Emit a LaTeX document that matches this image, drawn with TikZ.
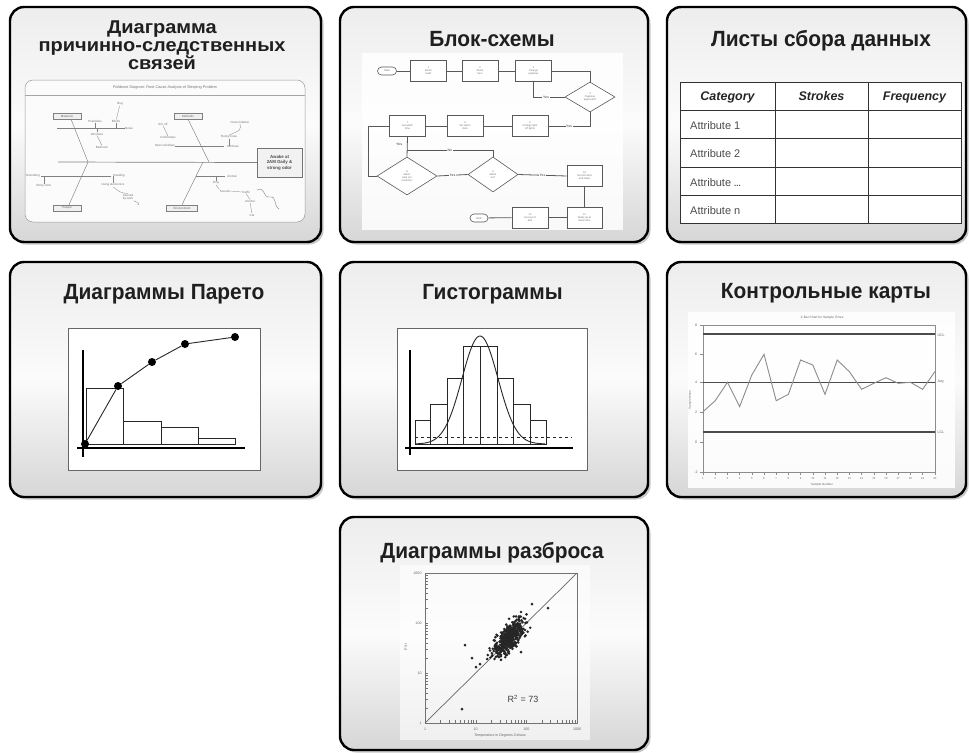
\documentclass[tikz,border=0pt]{standalone}
\usepackage{fontspec}
\setmainfont{Liberation Sans}
\newfontfamily\titlefont[FakeStretch=0.95]{Liberation Sans}
\newfontfamily\titlefontB[FakeStretch=1.08]{Liberation Sans}
\usetikzlibrary{shadows,shapes.geometric,calc}
\begin{document}
\begin{tikzpicture}[x=1pt,y=-1pt,
 panel/.style={draw=black, line width=2.4pt, rounded corners=14pt, top color=gray!14, bottom color=gray!32, middle color=gray!3, drop shadow={shadow xshift=2.5pt, shadow yshift=-2.5pt, fill=gray!60, opacity=0.7}, inner sep=0},
 ttl/.style={font=\titlefont\fontsize{22}{24}\selectfont\bfseries, text=black!88, anchor=base, inner sep=0},
 ttlB/.style={font=\titlefontB\fontsize{18.5}{20}\selectfont\bfseries, text=black!88, anchor=base, inner sep=0},
 tt/.style={font=\fontsize{3}{3.5}\selectfont, text=black!55, inner sep=0.3pt, align=center},
 fbl/.style={draw=black!50, line width=0.45pt},
 fbcat/.style={draw=black!50, fill=gray!12, line width=0.4pt, minimum width=28pt, minimum height=6pt, font=\fontsize{3}{3}\selectfont, text=black!60, inner sep=0},
 fbeff/.style={draw=black!55, fill=gray!10, line width=0.5pt, minimum width=45pt, minimum height=29pt, font=\fontsize{4.4}{5.6}\selectfont\bfseries, text=black!70, align=center, inner sep=0},
 fcbox/.style={draw=black!65, line width=0.6pt, fill=white, minimum width=36pt, minimum height=21pt, font=\fontsize{2.6}{3}\selectfont, text=black!55, align=center, inner sep=0},
 fcov/.style={draw=black!65, line width=0.6pt, fill=white, rounded corners=4pt, minimum width=19pt, minimum height=8pt, font=\fontsize{2.8}{3}\selectfont, text=black!55, inner sep=0},
 fcdia/.style={diamond, draw=black!65, line width=0.6pt, fill=white, font=\fontsize{2.6}{3}\selectfont, text=black!55, align=center, inner sep=0},
 fcl/.style={draw=black!65, line width=0.8pt},
 fclab/.style={fill=white, font=\fontsize{3.4}{3.6}\selectfont\bfseries, text=black!60, inner sep=0.6pt},
 hdr/.style={font=\fontsize{12.5}{13}\selectfont\bfseries\itshape, text=black!85, inner sep=0, anchor=base},
 cell/.style={font=\fontsize{11}{12}\selectfont, text=black!70, anchor=base west, inner sep=0},
 ax/.style={draw=black, line width=2.5pt},
 bar/.style={draw=black!85, line width=0.7pt},
 frm/.style={draw=black!60, line width=0.8pt, fill=white},
 ct/.style={font=\fontsize{3.6}{4}\selectfont, text=black!60, inner sep=0.3pt},
]
\useasboundingbox (0,0) rectangle (969,753);
\fill[white] (0,0) rectangle (969,753);

% ---------- panels ----------
\node[panel, minimum width=311pt, minimum height=235pt] (p1) at (165.5,124.5) {};
\node[panel, minimum width=308pt, minimum height=235pt] (p2) at (494,124.5) {};
\node[panel, minimum width=299pt, minimum height=235pt] (p3) at (816.5,124.5) {};
\node[panel, minimum width=311pt, minimum height=235pt] (p4) at (165.5,379.5) {};
\node[panel, minimum width=308pt, minimum height=235pt] (p5) at (494,379.5) {};
\node[panel, minimum width=299pt, minimum height=235pt] (p6) at (816.5,379.5) {};
\node[panel, minimum width=308pt, minimum height=233pt] (p7) at (494,633.5) {};

% ---------- titles ----------
\node[ttlB] (ti1a) at (162,33) {Диаграмма};
\node[ttlB] (ti1b) at (162,51) {причинно-следственных};
\node[ttlB] (ti1c) at (162,69.5) {связей};
\node[ttl] (ti2) at (492,46.5) {Блок-схемы};
\node[ttl] (ti3) at (821,46.5) {Листы сбора данных};
\node[ttl] (ti4) at (164,299) {Диаграммы Парето};
\node[ttl] (ti5) at (492.5,299) {Гистограммы};
\node[ttl] (ti6) at (826,298) {Контрольные карты};
\node[ttl] (ti7) at (492,558) {Диаграммы разброса};

% ---------- panel 1: fishbone ----------
\node[draw=black!40, line width=0.5pt, rounded corners=8pt, fill=gray!3, minimum width=280pt, minimum height=142pt, inner sep=0] (fb) at (165,151) {};
\coordinate (hl) at (25,95); \coordinate (hr) at (305,95);
\draw[black!35, line width=0.4pt] (hl) -- (hr);
\node[tt, font=\fontsize{3.8}{4}\selectfont] (fbt) at (165,87.5) {Fishbone Diagram: Root Cause Analysis of Sleeping Problem};
\node[fbeff] (eff) at (279.5,162.5) {Awake at\\2AM Daily \&\\strong odor};
\coordinate (sp0) at (58,162);
\draw[fbl, line width=0.7pt] (sp0) -- (eff.west);
\coordinate (j1) at (88,162); \coordinate (j2) at (209,162); \coordinate (j3) at (203,162);
\node[fbcat] (mat) at (67,116) {Materials};
\node[fbcat] (meth) at (188,116) {Methods};
\node[fbcat] (ppl) at (67,208) {People};
\node[fbcat, minimum width=31pt] (envc) at (182,208) {Environment};
\draw[fbl] ([xshift=4pt]mat.south) -- (j1);
\draw[fbl] (meth.south) -- (j2);
\draw[fbl] ([xshift=2pt]ppl.north) -- (j1);
\draw[fbl] (envc.north) -- (j3);
% materials
\coordinate (m1a) at (57,128); \coordinate (m1b) at (118,128);
\draw[fbl] (m1a) -- (m1b);
\node[tt] (t1) at (95,121) {Pesticides};
\node[tt] (t2) at (116,121) {Blinds};
\node[tt] (t3) at (120,104) {Bug};
\node[tt] (t4) at (129,128) {Noise};
\node[tt] (t5) at (97,134) {Windows};
\node[tt] (t6) at (102,147) {Bedroom};
\draw[fbl, line width=0.3pt] (t3) -- (t2);
\draw[fbl, line width=0.3pt] (t1.south) -- (t1.south |- m1a);
\draw[fbl, line width=0.3pt] (t2.south) -- (t2.south |- m1a);
\draw[fbl, line width=0.3pt] (t5.north) -- (t5.north |- m1a);
\draw[fbl, line width=0.3pt] (t6.north) -- (t5.south);
\draw[fbl, line width=0.3pt] (t4.west) -- (m1b);
% methods
\coordinate (h2a) at (158,146); \coordinate (h2b) at (224,146);
\draw[fbl] (h2a) -- (h2b);
\node[tt] (t7) at (163,124) {A/C off};
\node[tt] (t8) at (168,138) {Cold temps};
\node[tt, fill=gray!3] (t9) at (165,146) {Open windows};
\node[tt] (t10) at (240,122) {Nose irritation};
\node[tt] (t11) at (229,137) {Runny nose};
\node[tt] (t12) at (233,146) {Itchiness};
\draw[fbl, line width=0.3pt] (t7.south) -- (t8.north);
\draw[fbl, line width=0.3pt] (t10.south) .. controls (241,130) .. (t11.north);
\draw[fbl, line width=0.3pt] (t11.south) -- (t11.south |- h2a);
% people
\coordinate (h3a) at (41,176); \coordinate (h3b) at (111,176);
\draw[fbl] (h3a) -- (h3b);
\node[tt] (t13) at (33,175.5) {Disturbing};
\node[tt] (t14) at (44,186) {Body clock};
\node[tt] (t15) at (119,175.5) {Reading};
\node[tt] (t16) at (113,185) {Using electronics};
\node[tt] (t17) at (128,197) {Caused\\by work};
\draw[fbl, line width=0.3pt] (t14.north) -- (t14.north |- h3a);
\draw[fbl, line width=0.3pt] (t16.north) -- (t16.north |- h3a);
\draw[fbl, line width=0.3pt] (t17.north) .. controls (121,193) .. (t16.south);
\draw[fbl, line width=0.3pt] (t17.south east) .. controls (140,204) .. ++(4,4);
% environment
\coordinate (h4a) at (196,176); \coordinate (h4b) at (225,176);
\draw[fbl] (h4a) -- (h4b);
\node[tt] (t18) at (232,176) {Animal};
\node[tt] (t19) at (216,183) {Dirty};
\node[tt] (t20) at (225,191) {Sounds};
\node[tt] (t21) at (246,192) {Traffic};
\node[tt] (t22) at (250,201) {Alcohol};
\node[tt] (t23) at (252,215) {Cat};
\draw[fbl, line width=0.3pt] (t19.north) -- (t19.north |- h4a);
\draw[fbl, line width=0.3pt] (t19.south) -- (t20.north west);
\draw[fbl, line width=0.3pt] (t20.east) -- (t21.west);
\draw[fbl, line width=0.3pt] (t21.south) -- (t22.north);
\draw[fbl, line width=0.3pt] (t22.south) -- (t23.north);
\coordinate (sq0) at (257,190); \coordinate (sq1) at (279,209);
\draw[fbl, line width=0.4pt] (sq0) .. controls (266,186) and (262,198) .. (270,197) .. controls (277,196) and (273,205) .. (sq1);

% ---------- panel 2: flowchart ----------
\fill[white, opacity=0.85] (362,53) rectangle (623,230);
\node[fcov] (st) at (387,71) {Start};
\node[fcbox] (b1) at (428.5,71) {1\\Brush\\teeth};
\node[fcbox] (b2) at (480,71) {2\\Wash\\face};
\node[fcbox] (b3) at (533.5,71) {3\\Change\\pajamas};
\node[fcdia, minimum width=50pt, minimum height=30pt] (d4) at (590,97) {4\\Pajamas\\approved?};
\node[fcbox] (b5) at (530,126) {5\\Change light\\off lights};
\node[fcbox] (b6) at (465,126) {6\\Set alarm\\clock};
\node[fcbox] (b7) at (407.5,126) {7\\Set alarm\\time};
\node[fcdia, minimum width=60pt, minimum height=38pt] (d8) at (407,176) {8\\Alarm\\time set\\correctly?};
\node[fcdia, minimum width=50pt, minimum height=35pt] (d9) at (493,174.5) {9\\Alarm\\on?};
\node[fcbox, minimum width=35pt] (b10) at (584.5,176) {10\\Get into bed\\and sleep};
\node[fcbox, minimum width=35pt] (b11) at (584.5,217.5) {11\\Wake up at\\alarm time};
\node[fcbox] (b12) at (530,217.5) {12\\Get out of\\bed};
\node[fcov, minimum width=18pt] (en) at (479,218) {End};
\draw[fcl] (st) -- (b1);
\draw[fcl] (b1) -- (b2);
\draw[fcl] (b2) -- (b3);
\draw[fcl] (b3.east) -| (d4.north);
\draw[fcl] (d4.west) -| (b3.south) node[fclab, pos=0.3] {Yes};
\draw[fcl] (d4.south) |- (b5.east) node[fclab, pos=0.75] {Yes};
\draw[fcl] (b5) -- (b6);
\draw[fcl] (b6) -- (b7);
\coordinate (c1) at (368,126);
\draw[fcl] (b7.west) -- (c1) |- (d8.west);
\draw[fcl] (b7.south) -- (d8.north) node[fclab, pos=0.4, xshift=-8pt, fill=none] {Yes};
\draw[fcl] (d8.east) -- (d9.west) node[fclab, midway] {Yes};
\coordinate (c2) at (407,150);
\draw[fcl] (d9.north) |- (c2) node[fclab, pos=0.75] {No};
\draw[fcl] (d9.east) -- (b10.west) node[fclab, midway] {Yes};
\draw[fcl] (b10) -- (b11);
\draw[fcl] (b11) -- (b12);
\draw[fcl] (b12) -- (en);

% ---------- panel 3: table ----------
\fill[white] (680,82) rectangle (961,223);
\draw[black!80, line width=0.9pt] (680,82) rectangle (961,223);
\foreach \yy in {110,138,167,195} {\draw[black!80, line width=0.9pt] (680,\yy) -- (961,\yy);}
\foreach \xx in {775,868} {\draw[black!80, line width=0.9pt] (\xx,82) -- (\xx,223);}
\node[hdr] (h1) at (727.5,100.5) {Category};
\node[hdr] (h2) at (821.5,100.5) {Strokes};
\node[hdr] (h3) at (914.5,100.5) {Frequency};
\node[cell] (r1) at (690,129) {Attribute 1};
\node[cell] (r2) at (690,157.5) {Attribute 2};
\node[cell] (r3) at (690,186) {Attribute {\fontsize{8}{8}\selectfont\bfseries...}};
\node[cell] (r4) at (690,214) {Attribute n};

% ---------- panel 4: Pareto ----------
\node[frm, minimum width=192pt, minimum height=142pt, inner sep=0] (pf) at (164,399) {};
\draw[bar] (86,388) rectangle (123,444);
\draw[bar] (123,421) rectangle (161,444);
\draw[bar] (161,427) rectangle (198,444);
\draw[bar] (198,438) rectangle (235,444);
\draw[ax] (83,350) -- (83,457);
\draw[ax] (77,448) -- (245,448);
\node[circle, fill=black, inner sep=0, minimum size=8pt] (q0) at (85,444) {};
\node[circle, fill=black, inner sep=0, minimum size=8pt] (q1) at (118,386) {};
\node[circle, fill=black, inner sep=0, minimum size=8pt] (q2) at (152,362) {};
\node[circle, fill=black, inner sep=0, minimum size=8pt] (q3) at (185,344) {};
\node[circle, fill=black, inner sep=0, minimum size=8pt] (q4) at (235,337) {};
\draw[black!85, line width=0.9pt] (q0) -- (q1) -- (q2) -- (q3) -- (q4);

% ---------- panel 5: histogram ----------
\node[frm, minimum width=190pt, minimum height=142pt, inner sep=0] (hf) at (492,399) {};
\draw[bar] (415,420) rectangle (430,444);
\draw[bar] (430,404) rectangle (447,444);
\draw[bar] (447,378) rectangle (463,444);
\draw[bar] (463,346) rectangle (480,444);
\draw[bar] (480,346) rectangle (497,444);
\draw[bar] (497,378) rectangle (513,444);
\draw[bar] (513,404) rectangle (530,444);
\draw[bar] (530,420) rectangle (546,444);
\draw[black!85, line width=0.8pt, dashed] (415,437) -- (572,437);
\draw[black!85, line width=0.9pt, domain=416:545, samples=90, smooth] plot (\x, {444-108*exp(-((\x-480)^2)/(2*18^2))});
\draw[ax] (410,350) -- (410,455);
\draw[ax] (405,448) -- (573,448);

% ---------- panel 6: control chart ----------
\fill[white, opacity=0.9] (688,312) rectangle (955,488);
\node[ct, font=\fontsize{3.2}{3.5}\selectfont] (cct) at (822,317.5) {X-Bar Chart for Sample Times};
\draw[black!45, line width=0.5pt] (703,325) rectangle (935,472);
\foreach \i/\lab [count=\k] in {325/8,354/6,382/4,412/2,442/0,472/-2} {\draw[black!45, line width=0.4pt] (700,\i) -- (703,\i); \node[ct] (yl\k) at (696,\i) {\lab};}
\foreach \i in {1,...,20} {\draw[black!45, line width=0.4pt] ({703+12.2*(\i-1)},472) -- ({703+12.2*(\i-1)},475); \node[ct, font=\fontsize{2.8}{3}\selectfont] (xl\i) at ({703+12.2*(\i-1)},478.5) {\i};}
\node[ct, font=\fontsize{3}{3}\selectfont] (xlab) at (822,485) {Sample Number};
\node[ct, font=\fontsize{3}{3}\selectfont, rotate=90] (ylab) at (690,400) {Sample Mean};
\draw[black!70, line width=1.3pt] (703,334) -- (935,334);
\draw[black!70, line width=1.0pt] (703,382) -- (935,382);
\draw[black!70, line width=1.3pt] (703,432) -- (935,432);
\node[ct, anchor=west] (ucl) at (937,335) {UCL};
\node[ct, anchor=west] (avg) at (937,382) {Avg};
\node[ct, anchor=west] (lcl) at (937,432) {LCL};
\draw[black!45, line width=0.9pt] plot coordinates {(703,411.7) (715.2,400.7) (727.4,382.3) (739.6,406.7) (751.8,375) (764,354.3) (776.2,400.7) (788.4,394.3) (800.6,360) (812.8,365) (825,394.3) (837.2,360) (849.4,371.7) (861.6,389.3) (873.8,383.3) (886,377.7) (898.2,383.3) (910.4,382.3) (922.6,389.3) (934.8,371.7)};

% ---------- panel 7: scatter ----------
\fill[white, opacity=0.6] (400,565) rectangle (590,740);
\draw[black!55, line width=0.5pt] (425,573) rectangle (577,723);
\foreach \d in {0,1,2} {\foreach \kk in {1,...,9} {
  \draw[black!55, line width=0.3pt] (425,{723-50*(\d+ln(\kk)/ln(10))}) -- (428,{723-50*(\d+ln(\kk)/ln(10))});
  \draw[black!55, line width=0.3pt] ({425+50.7*(\d+ln(\kk)/ln(10))},723) -- ({425+50.7*(\d+ln(\kk)/ln(10))},720);
}}
\node[ct, anchor=east] (sy1) at (422,723) {1};
\node[ct, anchor=east] (sy2) at (422,673) {10};
\node[ct, anchor=east] (sy3) at (422,623) {100};
\node[ct, anchor=east] (sy4) at (422,573) {1000};
\node[ct] (sx1) at (425,729.5) {1};
\node[ct] (sx2) at (475.7,729.5) {10};
\node[ct] (sx3) at (526.4,729.5) {100};
\node[ct] (sx4) at (577,729.5) {1000};
\node[ct] (sxl) at (500,736) {Temperature in Degrees Celsius};
\node[ct, rotate=90] (syl) at (406,647) {P S I};
\coordinate (dg0) at (425,723); \coordinate (dg1) at (577,573);
\draw[black!60, line width=0.7pt] (dg0) -- (dg1);
\pgfmathsetseed{17}
\foreach \i in {1,...,420} {
  \pgfmathsetmacro\uu{(rand+rand+rand)*11.5}
  \pgfmathsetmacro\vv{(rand+rand+rand)*4.6}
  \fill[black!85] ({508+0.62*\uu+0.71*\vv},{639-0.78*\uu+0.71*\vv}) circle (1.45pt);
}
\foreach \px/\py in {465/645, 462/709, 532/604, 548/608, 476/667, 480/664, 521/652, 472/658}
  {\fill[black!85] (\px,\py) circle (1.5pt);}
\node[font=\fontsize{9}{10}\selectfont, text=black!75, inner sep=0] (r2l) at (523,699) {R\textsuperscript{2} = 73};
\end{tikzpicture}
\end{document}
